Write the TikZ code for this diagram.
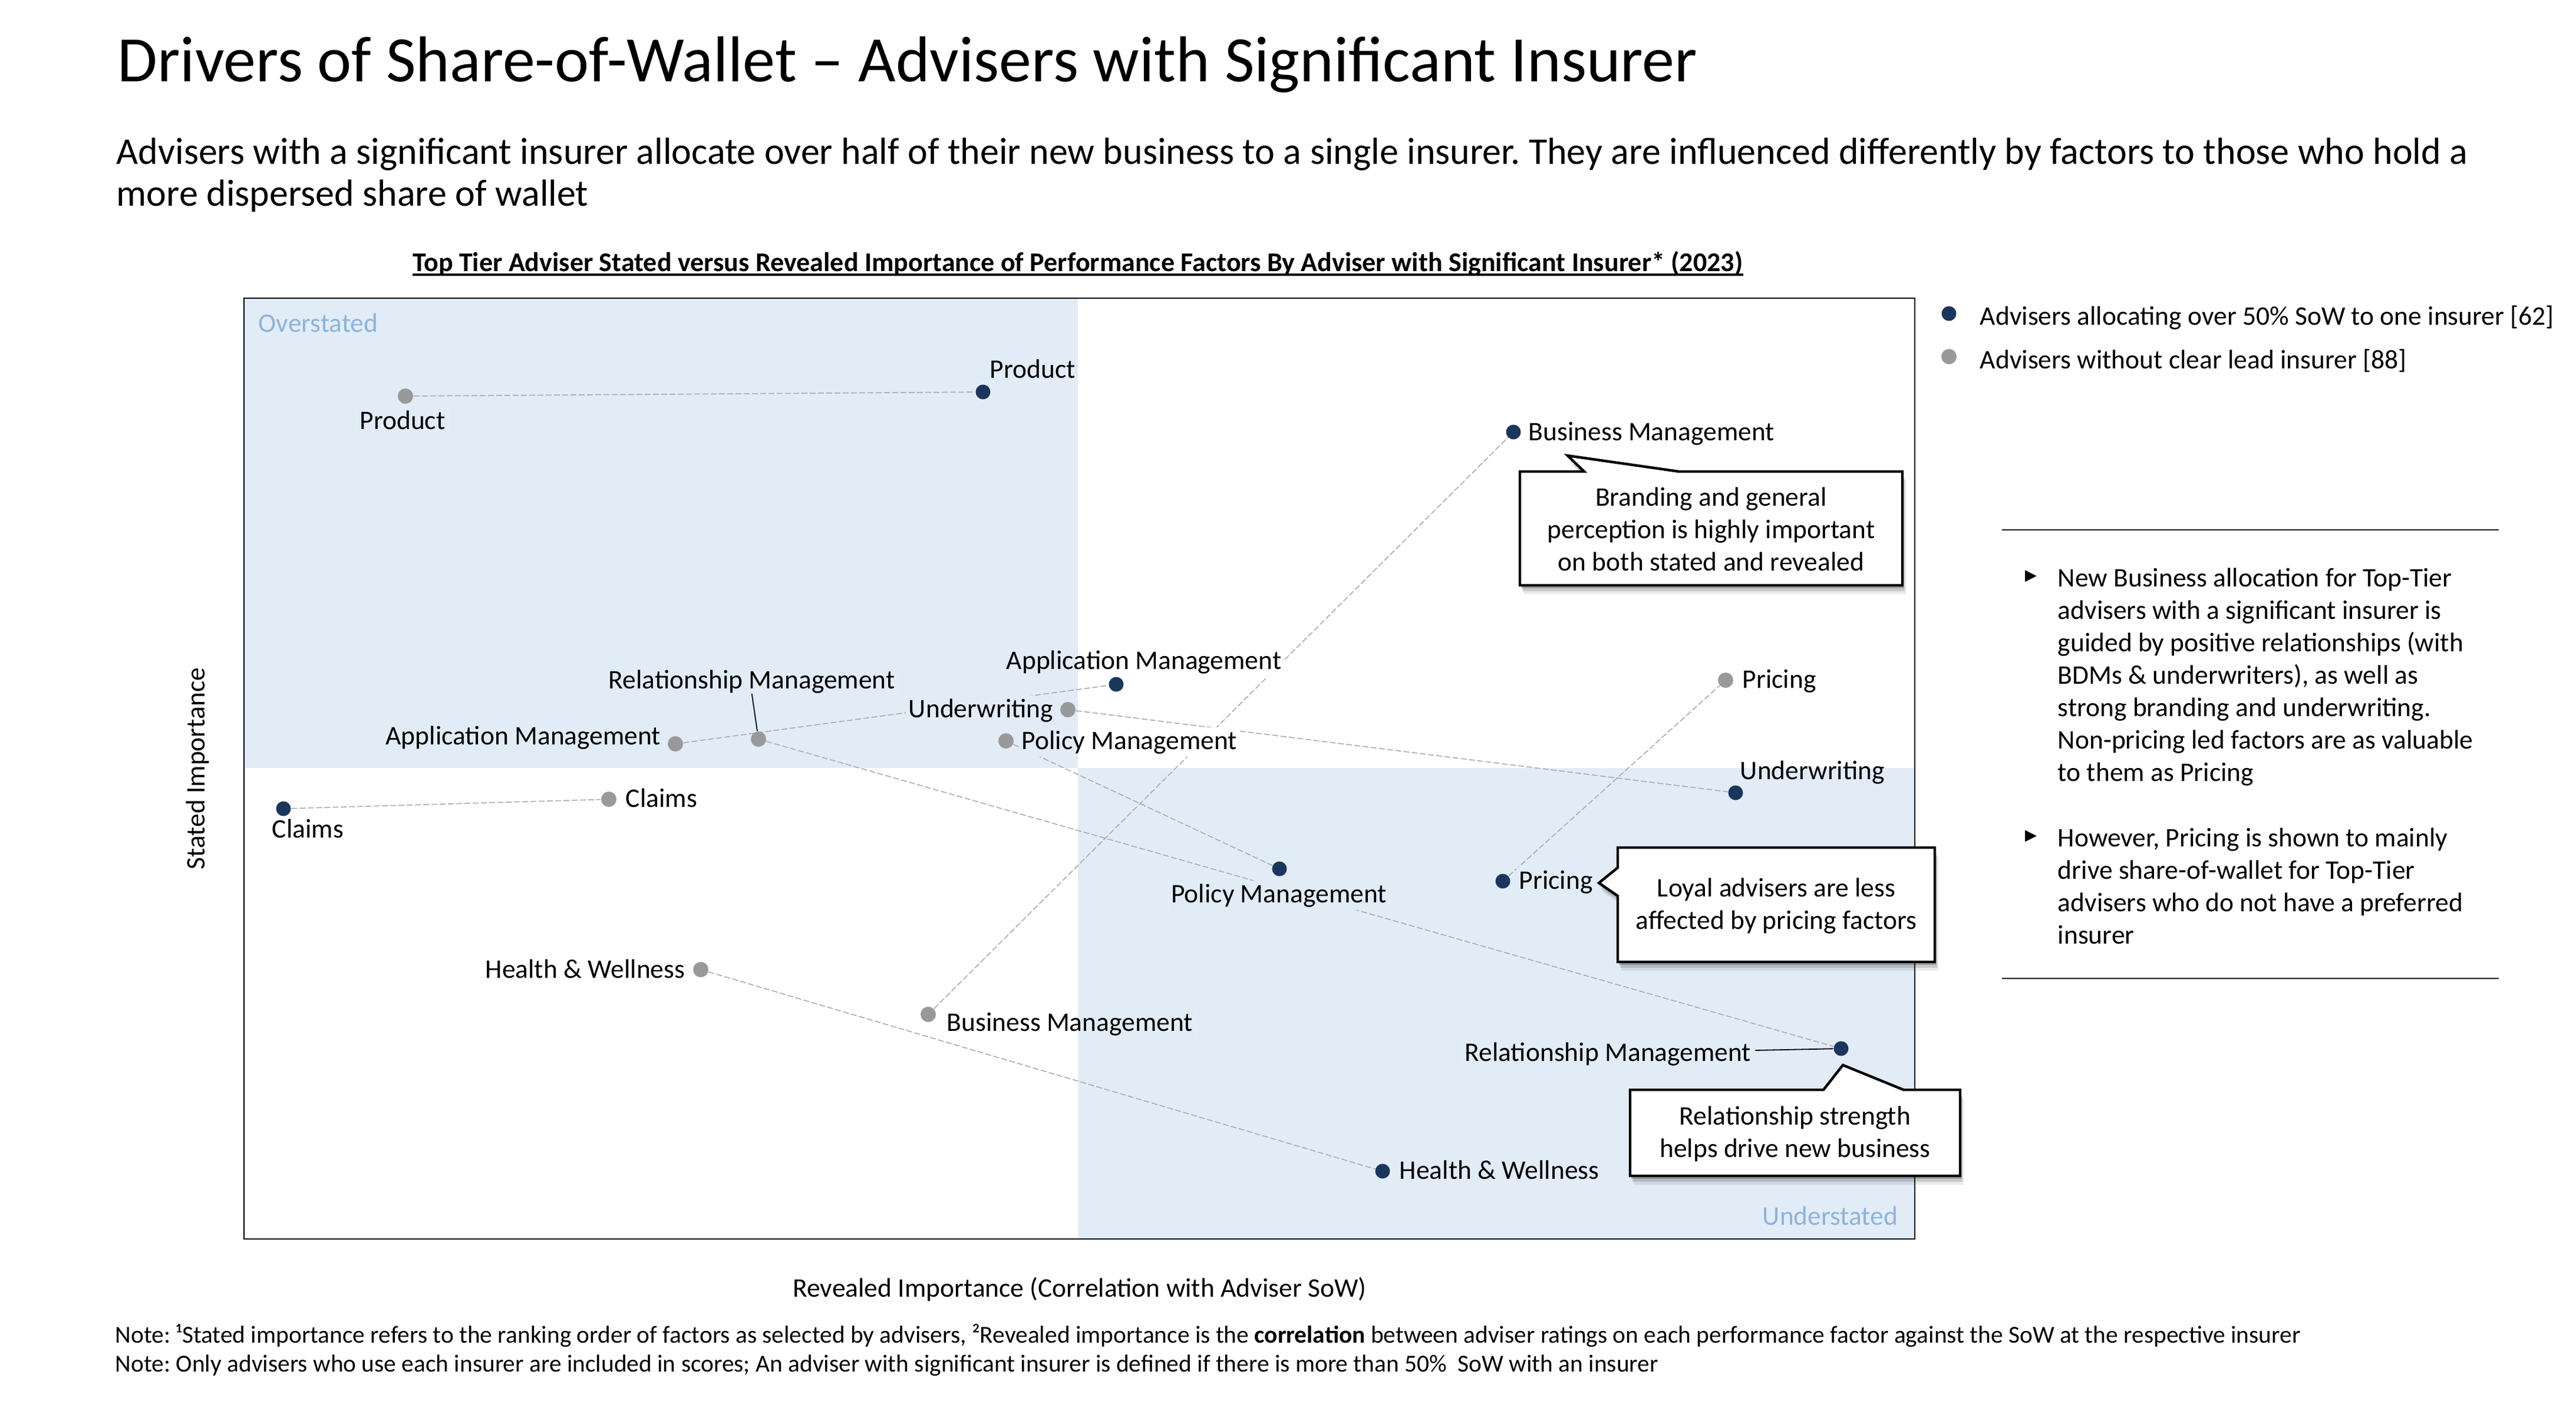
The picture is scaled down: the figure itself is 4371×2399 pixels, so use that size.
\documentclass[tikz,border=0pt]{standalone}
\usepackage{fontspec}
\setmainfont{Carlito}
\newfontfamily\symfont{DejaVu Sans}
\frenchspacing
\pgfdeclarelayer{bg}
\pgfsetlayers{bg,main}
\definecolor{navy}{HTML}{1B365D}
\definecolor{dotgray}{HTML}{999999}
\definecolor{shadeblue}{HTML}{E2ECF7}
\definecolor{linegray}{HTML}{A6A6A6}
\definecolor{quadtext}{HTML}{8DB4D9}
\newcommand\myfbody{\fontsize{11.375pt}{13.75pt}\selectfont}
\newcommand\myftitle{\fontsize{27.5pt}{32pt}\selectfont}
\newcommand\myfsub{\fontsize{16pt}{17.75pt}\selectfont}
\newcommand\myfchart{\fontsize{11.5pt}{13pt}\selectfont\bfseries}
\newcommand\myfnote{\fontsize{10.35pt}{12.25pt}\selectfont}
\newcommand\knockout[1]{%
  \begin{scope}
    \clip ([xshift=-1pt,yshift=-1pt]#1.south west) rectangle ([xshift=1pt,yshift=1pt]#1.north east);
    \fill[white] (0,0) rectangle (4371,2399);
    \fill[shadeblue] (414,506) rectangle (1829,1303);
    \fill[shadeblue] (1829,1303) rectangle (3249,2102);
  \end{scope}}
\begin{document}
\begin{tikzpicture}[x=0.25pt,y=-0.25pt,
  ddot/.style={circle, fill=navy, minimum size=6.25pt, inner sep=0pt},
  gdot/.style={circle, fill=dotgray, minimum size=6.5pt, inner sep=0pt},
  lab/.style={font=\myfbody, inner sep=0pt},
  conn/.style={draw=linegray, line width=0.375pt, dash pattern=on 2.5pt off 1pt},
  leader/.style={draw=black, line width=0.45pt},
  callout/.style={fill=white, draw=black, line width=1.1pt, line join=miter},
  calltext/.style={font=\myfbody, align=center, inner sep=0pt},
  bul/.style={inner sep=0pt, font=\symfont\fontsize{6.5pt}{8pt}\selectfont},
  para/.style={font=\myfbody, inner sep=0pt, anchor=base west, align=left}]
\useasboundingbox (0,0) rectangle (4371,2399);

% titles
\node[anchor=base west, inner sep=0pt, font=\myftitle] (title) at (199,138) {Drivers of Share-of-Wallet – Advisers with Significant Insurer};
\node[anchor=base west, inner sep=0pt, font=\myfsub, align=left] (sub) at (197,349) {Advisers with a significant insurer allocate over half of their new business to a single insurer. They are influenced differently by factors to those who hold a\\more dispersed share of wallet};
\node[anchor=base, inner sep=0pt, font=\myfchart] (ctitle) at (1829,460) {Top Tier Adviser Stated versus Revealed Importance of Performance Factors By Adviser with Significant Insurer* (2023)};
\draw[line width=1pt] ([yshift=-1.6pt]ctitle.base west) -- ([yshift=-1.6pt]ctitle.base east);

% frame
\draw[line width=0.7pt] (414,506) rectangle (3249,2102);
\node[lab, text=quadtext, anchor=base west] (over) at (438,563) {Overstated};
\node[lab, text=quadtext, anchor=base east] (under) at (3221,2078) {Understated};

% dots
\node[ddot] (dProd) at (1668,665) {};
\node[gdot] (gProd) at (688,672) {};
\node[ddot] (dBus) at (2568,733) {};
\node[gdot] (gBus) at (1575,1721) {};
\node[ddot] (dApp) at (1894,1161) {};
\node[gdot] (gApp) at (1146,1262) {};
\node[ddot] (dRel) at (3124,1779) {};
\node[gdot] (gRel) at (1287,1254) {};
\node[ddot] (dUnd) at (2945,1345) {};
\node[gdot] (gUnd) at (1812,1204) {};
\node[ddot] (dPol) at (2171,1474) {};
\node[gdot] (gPol) at (1707,1257) {};
\node[ddot] (dPri) at (2550,1495) {};
\node[gdot] (gPri) at (2928,1154) {};
\node[ddot] (dCla) at (481,1372) {};
\node[gdot] (gCla) at (1033,1356) {};
\node[ddot] (dHea) at (2346,1987) {};
\node[gdot] (gHea) at (1189,1645) {};

% labels
\node[lab, anchor=base west] (lProdD) at (1679,641) {Product};
\node[lab, anchor=base] (lProdG) at (683,728) {Product};
\node[lab, anchor=base west] (lBusD) at (2593,747) {Business Management};
\node[lab, anchor=base west] (lBusG) at (1606,1749) {Business Management};
\node[lab, anchor=base west] (lAppD) at (1707,1135) {Application Management};
\node[lab, anchor=base east] (lAppG) at (1122,1263) {Application Management};
\node[lab, anchor=base east] (lRelD) at (2972,1800) {Relationship Management};
\node[lab, anchor=base west] (lRelG) at (1032,1168) {Relationship Management};
\node[lab, anchor=base west] (lUndD) at (2952,1322) {Underwriting};
\node[lab, anchor=base east] (lUndG) at (1788,1217) {Underwriting};
\node[lab, anchor=base] (lPolD) at (2170,1531) {Policy Management};
\node[lab, anchor=base west] (lPolG) at (1733,1271) {Policy Management};
\node[lab, anchor=base west] (lPriD) at (2577,1508) {Pricing};
\node[lab, anchor=base west] (lPriG) at (2956,1167) {Pricing};
\node[lab, anchor=base west] (lClaD) at (461,1421) {Claims};
\node[lab, anchor=base west] (lClaG) at (1061,1369) {Claims};
\node[lab, anchor=base west] (lHeaD) at (2374,2000) {Health \& Wellness};
\node[lab, anchor=base east] (lHeaG) at (1163,1659) {Health \& Wellness};

% leader lines
\draw[leader] (lRelG.south) -- (gRel);
\draw[leader] ([xshift=1.5pt,yshift=4.5pt]lRelD.base east) -- (dRel);

% background layer: shading, connectors, knockouts
\begin{pgfonlayer}{bg}
  \fill[white] (0,0) rectangle (4371,2399);
  \fill[shadeblue] (414,506) rectangle (1829,1303);
  \fill[shadeblue] (1829,1303) rectangle (3249,2102);
  \draw[conn] (gProd) -- (dProd);
  \draw[conn] (dCla) -- (gCla);
  \draw[conn] (gApp) -- (dApp);
  \draw[conn] (gUnd) -- (dUnd);
  \draw[conn] (gRel) -- (dRel);
  \draw[conn] (gPol) -- (dPol);
  \draw[conn] (gBus) -- (dBus);
  \draw[conn] (dPri) -- (gPri);
  \draw[conn] (gHea) -- (dHea);
  \foreach \n in {lProdD,lProdG,lBusD,lBusG,lAppD,lAppG,lRelD,lRelG,lUndD,lUndG,lPolD,lPolG,lPriD,lPriG,lClaD,lClaG,lHeaD,lHeaG}{\knockout{\n}}
\end{pgfonlayer}

% callouts
\foreach \s/\o in {2/0.22,4/0.14,6/0.08}{
  \fill[black, opacity=\o, shift={(\s,2.5*\s)}] (2579,800) -- (2688,800) -- (2660,773) -- (2849,800) -- (3228,800) -- (3228,993) -- (2579,993) -- cycle;
  \fill[black, opacity=\o, shift={(\s,2.5*\s)}] (2745,1438) -- (3283,1438) -- (3283,1632) -- (2745,1632) -- (2745,1520) -- (2713,1498) -- (2745,1472) -- cycle;
  \fill[black, opacity=\o, shift={(\s,2.5*\s)}] (2766,1849) -- (3094,1849) -- (3127,1807) -- (3230,1849) -- (3326,1849) -- (3326,1995) -- (2766,1995) -- cycle;
}
\draw[callout] (2579,800) -- (2688,800) -- (2660,773) -- (2849,800) -- (3228,800) -- (3228,993) -- (2579,993) -- cycle;
\draw[callout] (2745,1438) -- (3283,1438) -- (3283,1632) -- (2745,1632) -- (2745,1520) -- (2713,1498) -- (2745,1472) -- cycle;
\draw[callout] (2766,1849) -- (3094,1849) -- (3127,1807) -- (3230,1849) -- (3326,1849) -- (3326,1995) -- (2766,1995) -- cycle;
\node[calltext] (tBrand) at (2903.5,897.5) {Branding and general\\perception is highly important\\on both stated and revealed};
\node[calltext] (tLoyal) at (3014,1537) {Loyal advisers are less\\affected by pricing factors};
\node[calltext] (tRelS) at (3046,1924) {Relationship strength\\helps drive new business};

% legend
\node[ddot] (legD) at (3307,532) {};
\node[lab, anchor=base west] (legDt) at (3359,551) {Advisers allocating over 50\% SoW to one insurer [62]};
\node[gdot] (legG) at (3307,605) {};
\node[lab, anchor=base west] (legGt) at (3359,625) {Advisers without clear lead insurer [88]};

% right panel
\draw[line width=0.5pt] (3397,899) -- (4240,899);
\draw[line width=0.5pt] (3397,1660) -- (4240,1660);
\node[bul] (b1) at (3446,978) {▶};
\node[para] (p1) at (3491,1325) {New Business allocation for Top-Tier\\advisers with a significant insurer is\\guided by positive relationships (with\\BDMs \& underwriters), as well as\\strong branding and underwriting.\\Non-pricing led factors are as valuable\\to them as Pricing};
\node[bul] (b2) at (3446,1419) {▶};
\node[para] (p2) at (3491,1601) {However, Pricing is shown to mainly\\drive share-of-wallet for Top-Tier\\advisers who do not have a preferred\\insurer};

% axis labels
\node[lab, rotate=90] (ylab) at (335,1304) {Stated Importance};
\node[lab, anchor=base] (xlab) at (1832,2200) {Revealed Importance (Correlation with Adviser SoW)};

% notes
\node[anchor=base west, inner sep=0pt, font=\myfnote] (n1) at (195,2278) {Note: ¹Stated importance refers to the ranking order of factors as selected by advisers, ²Revealed importance is the \textbf{correlation} between adviser ratings on each performance factor against the SoW at the respective insurer};
\node[anchor=base west, inner sep=0pt, font=\myfnote] (n2) at (195,2327) {Note: Only advisers who use each insurer are included in scores; An adviser with significant insurer is defined if there is more than 50\%\ \ SoW with an insurer};
\end{tikzpicture}
\end{document}
